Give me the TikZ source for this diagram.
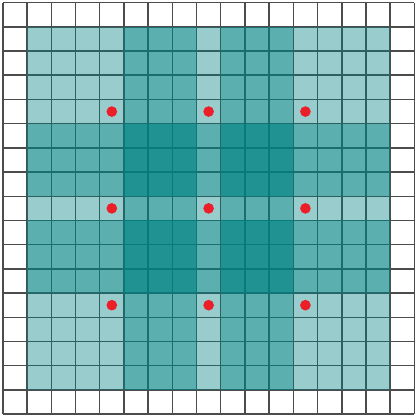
\documentclass[tikz,border=0pt]{standalone}
\definecolor{patchteal}{RGB}{0,130,130}
\definecolor{dotred}{RGB}{236,30,40}
\begin{document}
\begin{tikzpicture}[x=1cm, y=1cm]

  \useasboundingbox (-0.12,-0.12) rectangle (17.07,17.11);

  \draw[step=1cm, black!70, line width=1.8pt] (0,0) grid (17,17);

  \foreach \x/\y in {
    4/4, 8/4, 12/4,
    4/8, 8/8, 12/8,
    4/12, 8/12, 12/12
  } {
    \fill[patchteal, fill opacity=0.4] (\x-3,\y-3) rectangle ++(7,7);
  }

  \foreach \x/\y in {
    4/4, 8/4, 12/4,
    4/8, 8/8, 12/8,
    4/12, 8/12, 12/12
  } {
    \fill[dotred] (\x+0.5,\y+0.5) circle (0.22);
  }

\end{tikzpicture}
\end{document}
